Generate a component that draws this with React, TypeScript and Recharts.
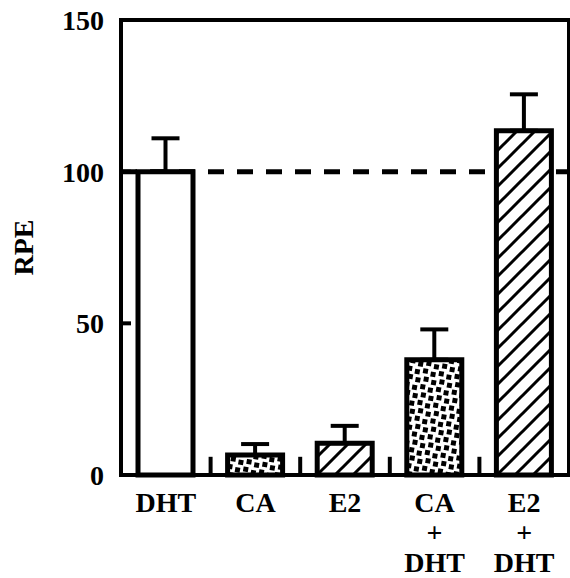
import React from "react";
import { BarChart, Bar, XAxis, YAxis, Cell, ErrorBar, ReferenceLine, ReferenceArea, Label } from "recharts";

const categories = ["DHT", "CA", "E2", "CA+DHT", "E2+DHT"];
const rpeMeans = [100, 6.6, 10.5, 38, 113.5];
const rpeErrors = [11, 3.6, 5.7, 10, 12];
const yTicks = [0, 50, 100, 150];
const baseline = 100;
const separatorHeight = 6; // RPE units, the short ticks between groups

const fills = ["#ffffff", "url(#dots)", "url(#hatch)", "url(#dots)", "url(#hatch)"];
const font = "Liberation Serif, Times New Roman, serif";
const ink = { stroke: "#000", strokeWidth: 4 };

const data = categories.map((name, i) => ({ name, rpe: rpeMeans[i], err: [0, rpeErrors[i]] }));
const innerTicks = yTicks.filter((t) => t > yTicks[0] && t < yTicks[yTicks.length - 1]);

// "CA+DHT" -> CA / + / DHT, stacked
function CategoryTick({ x, y, payload }: any) {
    const lines = String(payload.value)
        .split("+")
        .flatMap((part, i) => (i === 0 ? [part] : ["+", part]));
    return (
        <text x={x} y={y} textAnchor="middle" style={{ fontFamily: font }} fontWeight="bold" fontSize={28} fill="#000">
            {lines.map((line, i) => (
                <tspan key={i} x={x} dy={i === 0 ? 37 : 30}>
                    {line}
                </tspan>
            ))}
        </text>
    );
}

function RpeLabel({ viewBox }: any) {
    const cx = viewBox.x + 23;
    const cy = viewBox.y + viewBox.height / 2;
    return (
        <text
            x={cx}
            y={cy}
            transform={`rotate(-90, ${cx}, ${cy})`}
            textAnchor="middle"
            dominantBaseline="central"
            style={{ fontFamily: font }}
            fontWeight="bold"
            fontSize={28}
            fill="#000"
        >
            RPE
        </text>
    );
}

export default function App() {
    return (
        <div style={{ position: "absolute", left: 0, top: 0, background: "#fff", fontFamily: font }}>
            <BarChart width={570} height={578} data={data} margin={{ top: 20, right: 1, bottom: 0, left: 0 }}>
                <defs>
                    <pattern id="dots" width="16" height="16" patternUnits="userSpaceOnUse" patternTransform="rotate(10)">
                        <rect width="16" height="16" fill="#fff" />
                        <rect x="1" y="1" width="5" height="5" fill="#000" />
                        <rect x="9" y="3" width="5" height="5" fill="#000" />
                        <rect x="3" y="9" width="5" height="5" fill="#000" />
                        <rect x="11" y="11" width="5" height="5" fill="#000" />
                    </pattern>
                    <pattern id="hatch" width="18" height="18" patternUnits="userSpaceOnUse">
                        <rect width="18" height="18" fill="#fff" />
                        <path d="M0,18 L18,0 M-9,9 L9,-9 M9,27 L27,9" stroke="#000" strokeWidth="3" />
                    </pattern>
                </defs>
                <XAxis
                    dataKey="name"
                    interval={0}
                    height={103}
                    tickLine={false}
                    tickSize={0}
                    tickMargin={0}
                    axisLine={ink}
                    tick={<CategoryTick />}
                />
                <YAxis
                    domain={[0, 150]}
                    ticks={yTicks}
                    interval={0}
                    width={121}
                    tickLine={false}
                    tickSize={6}
                    tickMargin={11}
                    axisLine={ink}
                    tick={{ fill: "#000", fontFamily: font, fontWeight: "bold", fontSize: 28 }}
                >
                    <Label content={<RpeLabel />} />
                </YAxis>
                {/* inward ticks at 50 and 100 */}
                <YAxis
                    yAxisId="inner"
                    domain={[0, 150]}
                    allowDataOverflow
                    ticks={innerTicks}
                    interval={0}
                    mirror
                    width={1}
                    axisLine={false}
                    tickSize={10}
                    tickLine={ink}
                    tickFormatter={() => ""}
                />
                <ReferenceArea y1={0} y2={150} fill="none" stroke="#000" strokeWidth={4} fillOpacity={0} />
                {/* short upward ticks between the groups */}
                {categories.slice(1).map((c) => (
                    <ReferenceLine
                        key={c}
                        position="start"
                        segment={[
                            { x: c, y: 0 },
                            { x: c, y: separatorHeight },
                        ]}
                        stroke="#000"
                        strokeWidth={4}
                    />
                ))}
                <ReferenceLine y={baseline} stroke="#000" strokeWidth={5} strokeDasharray="16 13" zIndex={250} />
                <Bar dataKey="rpe" barSize={55} stroke="#000" strokeWidth={5} isAnimationActive={false}>
                    {data.map((d, i) => (
                        <Cell key={d.name} fill={fills[i]} />
                    ))}
                    <ErrorBar dataKey="err" width={14} stroke="#000" strokeWidth={4} isAnimationActive={false} />
                </Bar>
            </BarChart>
        </div>
    );
}
